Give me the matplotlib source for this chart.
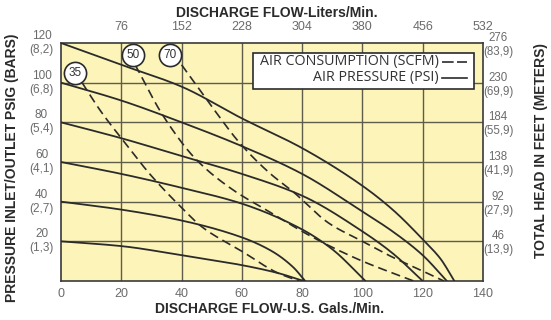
import numpy as np
import matplotlib
matplotlib.use("Agg")
import matplotlib.pyplot as plt
from matplotlib import font_manager
from matplotlib.transforms import offset_copy, blended_transform_factory

# ---- data -------------------------------------------------------------
gpm_ticks = [0, 20, 40, 60, 80, 100, 120, 140]
lpm_labels = ["76", "152", "228", "304", "380", "456", "532"]
psi_ticks = [20, 40, 60, 80, 100, 120]
bar_labels = ["(1,3)", "(2,7)", "(4,1)", "(5,4)", "(6,8)", "(8,2)"]
head_ft = ["46", "92", "138", "184", "230", "276"]
head_m = ["(13,9)", "(27,9)", "(41,9)", "(55,9)", "(69,9)", "(83,9)"]

# air pressure curves (psi): flow (gpm) vs discharge pressure (psig)
p120_x = [0, 20, 40, 60, 80, 100, 110, 120, 126, 130.5]
p120_y = [120, 109, 98, 82, 67, 48, 36, 21, 11, 0]
p100_x = [0, 20, 40, 60, 80, 100, 110, 120, 128]
p100_y = [100, 91, 80, 68, 54, 35, 25, 13, 0]
p80_x = [0, 20, 40, 60, 80, 100, 110, 120]
p80_y = [80, 72, 63, 54, 43, 25, 14, 0]
p60_x = [0, 20, 40, 60, 80, 90, 101]
p60_y = [60, 54, 47, 39, 26, 16, 0]
p40_x = [0, 20, 40, 60, 70, 77, 81]
p40_y = [40, 36, 30.5, 22, 15, 7, 0]
p20_x = [0, 20, 40, 60, 72, 80.5]
p20_y = [20, 17.6, 13, 8, 4, 0]

# air consumption curves (SCFM)
c35_x = [7, 13, 20, 30, 40, 47, 60, 72, 79]
c35_y = [100, 86, 72, 53, 37, 27, 15, 4, 0]
c50_x = [24.6, 34, 45, 57, 69, 80, 90, 100, 110, 117]
c50_y = [109, 83, 61, 46, 35, 25, 17, 10, 4, 0]
c70_x = [40, 50, 59.4, 69.3, 77, 89, 100, 110, 120, 127]
c70_y = [109, 88, 69.4, 54.3, 45, 29, 20, 12, 5, 0]

scfm_labels = ["35", "50", "70"]
scfm_label_x = [4.8, 24.0, 36.2]
scfm_label_y = [105.0, 114.0, 114.0]


def pchip(x, y, n=200):
    """Monotone cubic (Fritsch-Carlson) interpolation for smooth drawing."""
    x = np.asarray(x, float)
    y = np.asarray(y, float)
    h = np.diff(x)
    d = np.diff(y) / h
    m = np.zeros_like(y)
    m[0], m[-1] = d[0], d[-1]
    for i in range(1, len(x) - 1):
        if d[i - 1] * d[i] <= 0:
            m[i] = 0
        else:
            w1 = 2 * h[i] + h[i - 1]
            w2 = h[i] + 2 * h[i - 1]
            m[i] = (w1 + w2) / (w1 / d[i - 1] + w2 / d[i])
    xs = np.linspace(x[0], x[-1], n)
    idx = np.clip(np.searchsorted(x, xs) - 1, 0, len(x) - 2)
    t = (xs - x[idx]) / h[idx]
    h00 = 2 * t**3 - 3 * t**2 + 1
    h10 = t**3 - 2 * t**2 + t
    h01 = -2 * t**3 + 3 * t**2
    h11 = t**3 - t**2
    ys = (h00 * y[idx] + h10 * h[idx] * m[idx]
          + h01 * y[idx + 1] + h11 * h[idx] * m[idx + 1])
    return xs, ys


# ---- fonts ------------------------------------------------------------
installed = {f.name for f in font_manager.fontManager.ttflist}
narrow = "Liberation Sans Narrow" if "Liberation Sans Narrow" in installed else "Liberation Sans"
label_font = "Liberation Sans"
legend_font = "Open Sans" if "Open Sans" in installed else "DejaVu Sans"

W, H = 551, 320
fig = plt.figure(figsize=(W / 100, H / 100), dpi=100)
fig.patch.set_facecolor("white")

x0, x1, y0, y1 = 61, 483, 43, 281
ax = fig.add_axes([x0 / W, 1 - y1 / H, (x1 - x0) / W, (y1 - y0) / H])
ax.set_facecolor("#fcf4b8")
ax.set_xlim(0, 140)
ax.set_ylim(0, 120)

line_col = "#2b2b2b"
grid_col = "#5e5d4c"
tick_col = "#6b6b6b"

for gx in gpm_ticks[1:-1]:
    ax.axvline(gx, color=grid_col, lw=1.0, zorder=1)
for gy in psi_ticks[:-1]:
    ax.axhline(gy, color=grid_col, lw=1.0, zorder=1)

for s in ax.spines.values():
    s.set_color("#3a3a3a")
    s.set_linewidth(1.2)

# pressure curves
for xs, ys in [(p120_x, p120_y), (p100_x, p100_y), (p80_x, p80_y),
               (p60_x, p60_y), (p40_x, p40_y), (p20_x, p20_y)]:
    sx, sy = pchip(xs, ys)
    ax.plot(sx, sy, color=line_col, lw=1.3, zorder=3, solid_capstyle="round")

# air consumption curves
for xs, ys in [(c35_x, c35_y), (c50_x, c50_y), (c70_x, c70_y)]:
    sx, sy = pchip(xs, ys)
    ax.plot(sx, sy, color=line_col, lw=1.2, zorder=3, dashes=(5.5, 3))

# circled SCFM markers
for lab, cx, cy in zip(scfm_labels, scfm_label_x, scfm_label_y):
    ax.plot([cx], [cy], "o", ms=16, mfc="white", mec="#2b2b2b", mew=1.2,
            zorder=5, clip_on=False)
    ax.text(cx, cy, lab, ha="center", va="center", fontsize=8.5,
            family=narrow, color="#333333", zorder=6)

# ticks
ax.set_xticks(gpm_ticks)
ax.set_xticklabels([str(v) for v in gpm_ticks], family=narrow, fontsize=9,
                   color=tick_col)
ax.set_yticks(psi_ticks)
ax.set_yticklabels([f"{v}\n{b}" for v, b in zip(psi_ticks, bar_labels)],
                   family=narrow, fontsize=8.5, color=tick_col,
                   linespacing=1.2, ha="center", va="center")
ax.tick_params(axis="both", length=0)
ax.tick_params(axis="x", pad=5)
ax.tick_params(axis="y", pad=14)

top = ax.secondary_xaxis("top")
top.set_xticks(gpm_ticks[1:])
top.set_xticklabels(lpm_labels, family=narrow, fontsize=9, color=tick_col)
top.tick_params(length=0, pad=7)
top.spines["top"].set_visible(False)

# right-hand head scale, placed just outside the frame
head_tf = offset_copy(blended_transform_factory(fig.transFigure, ax.transData),
                      fig=fig, x=0, y=-2, units="dots")
for yv, a, b in zip(psi_ticks, head_ft, head_m):
    fig.text(498 / W, yv, f"{a}\n{b}", transform=head_tf, ha="center",
             va="center", family=narrow, fontsize=8.3, color=tick_col,
             linespacing=1.2)

# axis titles
title_kw = dict(ha="center", va="center", fontsize=10, fontweight="bold",
                family=label_font, color="#2a2a2a")
fig.text(270 / W, 1 - 309 / H, "DISCHARGE FLOW-U.S. Gals./Min.", **title_kw)
fig.text(277 / W, 1 - 13 / H, "DISCHARGE FLOW-Liters/Min.", **title_kw)
fig.text(12 / W, 1 - 168 / H, "PRESSURE INLET/OUTLET PSIG (BARS)",
         rotation=90, **title_kw)
fig.text(541 / W, 1 - 150 / H, "TOTAL HEAD IN FEET (METERS)",
         rotation=90, **title_kw)

# legend box
lx0, lx1, ly0, ly1 = 253, 474, 53, 89
def fx(px):
    return (px - x0) / (x1 - x0) * 140
def fy(py):
    return (y1 - py) / (y1 - y0) * 120

ax.fill([fx(lx0), fx(lx1), fx(lx1), fx(lx0)], [fy(ly0), fy(ly0), fy(ly1), fy(ly1)],
        facecolor="white", edgecolor="#2b2b2b", lw=1.2, zorder=7)
ax.text(fx(439), fy(62), "AIR CONSUMPTION (SCFM)", ha="right", va="center",
        fontsize=10.3, family=legend_font, color="#333333", zorder=8)
ax.text(fx(439), fy(78), "AIR PRESSURE (PSI)", ha="right", va="center",
        fontsize=10.3, family=legend_font, color="#333333", zorder=8)
ax.plot([fx(442), fx(467)], [fy(62), fy(62)], color=line_col, lw=1.2,
        dashes=(7, 2), zorder=8)
ax.plot([fx(442), fx(467)], [fy(78), fy(78)], color=line_col, lw=1.2, zorder=8)

fig.savefig("out.png", dpi=100, facecolor="white")
